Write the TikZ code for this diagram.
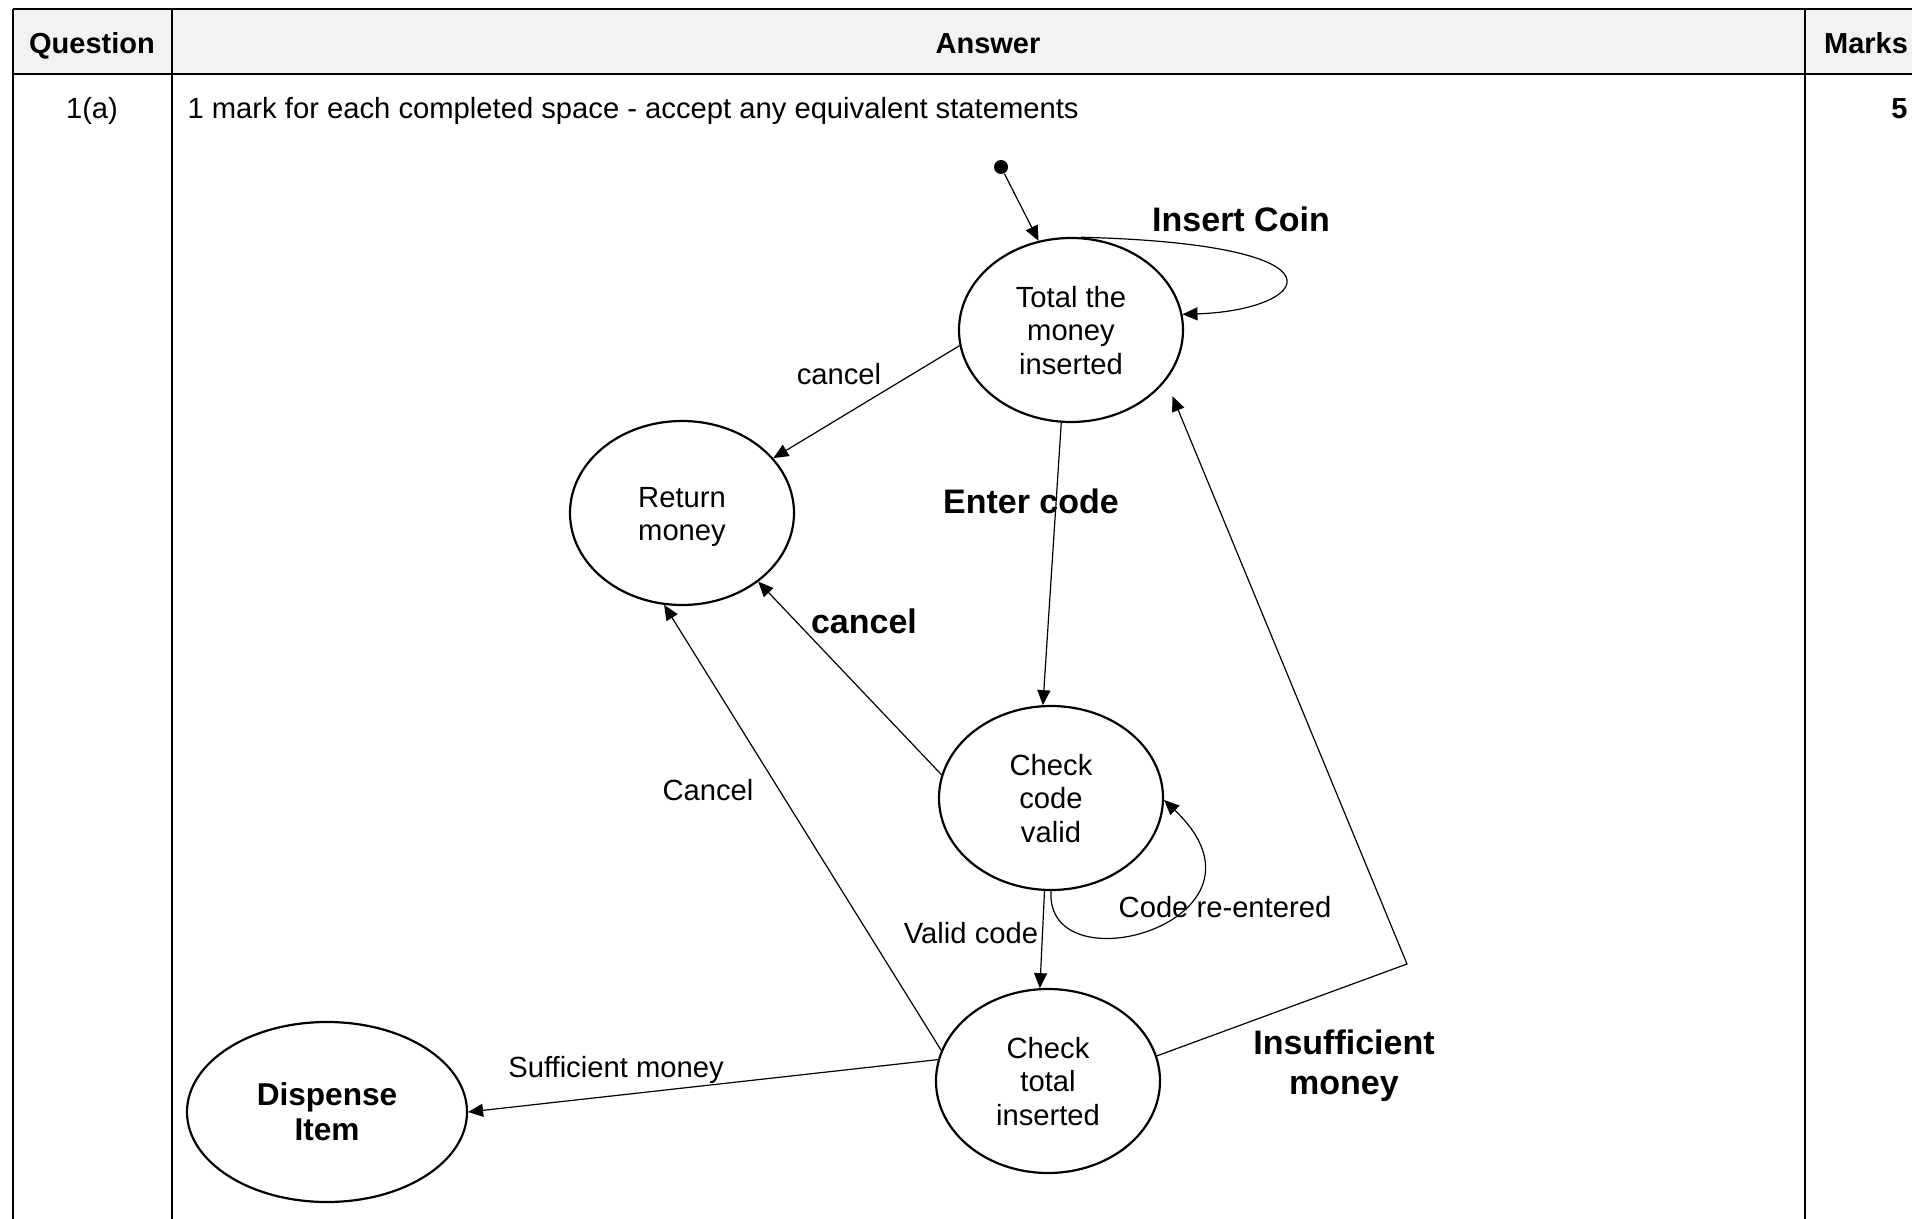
\documentclass[tikz,border=0pt]{standalone}
\usepackage{fontspec}
\setmainfont{Liberation Sans}
\usepackage{tikz}
\usetikzlibrary{arrows.meta,automata,shapes.geometric}
\usetikzlibrary{positioning}

\definecolor{headergray}{HTML}{F2F2F2}
\newcommand{\diagtext}{\fontsize{14.6}{16.8}\selectfont}
\newcommand{\diagbold}{\fontsize{17}{20}\selectfont\bfseries}
\newcommand{\dispbold}{\fontsize{15.8}{17.7}\selectfont\bfseries}
\newcommand{\headbold}{\fontsize{14.5}{16.8}\selectfont\bfseries}

\begin{document}
\begin{tikzpicture}[->,>={Triangle[length=7.5pt,width=6.5pt]},
    x=0.5pt, y=-0.5pt, line width=0.6pt,
    every state/.style={ellipse, draw, line width=1.1pt,
      minimum width=112pt, minimum height=92pt, inner sep=0pt, font=\diagtext},
    lbl/.style={font=\diagtext, anchor=base, inner sep=0pt},
    boldlbl/.style={font=\diagbold, anchor=base, inner sep=0pt},
    headtext/.style={font=\headbold, anchor=base, inner sep=0pt}]
    \useasboundingbox (0,0) rectangle (1912,1219);

    % TABLE
    \fill[headergray] (13,9) rectangle (1912,74);
    \draw[-, line width=0.6pt] (13,9) -- (1912,9);
    \draw[-, line width=1.4pt] (13,74) -- (1912,74);
    \draw[-, line width=1pt] (13,9) -- (13,1219);
    \draw[-, line width=1pt] (172,9) -- (172,1219);
    \draw[-, line width=1pt] (1805,9) -- (1805,1219);

    \node[headtext] (QUESTION_HEAD) at (92,54) {Question};
    \node[headtext] (ANSWER_HEAD) at (988,54) {Answer};
    \node[headtext] (MARKS_HEAD) at (1866,54) {Marks};
    \node[lbl] (QUESTION_NO) at (92,119) {1(a)};
    \node[lbl, anchor=base west] (ANSWER_NOTE) at (187,119)
      {1 mark for each completed space - accept any equivalent statements};
    \node[headtext, anchor=base east] (MARKS_NO) at (1908,119) {5};

    % FIRST LAYER
    \node[circle, fill, inner sep=0pt, minimum size=7pt] (INIT) at (1001,167) {};

    \node[state] (TOTAL_MONEY) at (1071,330)
    {
      \raisebox{-2.1pt}[\height][\depth]{\begin{tabular}{c}
        Total the \\ money \\ inserted
      \end{tabular}}
    };

    % SECOND LAYER
    \node[state,
      node distance=91.5pt,
      below of=TOTAL_MONEY,
      xshift=-194.5pt] (RETURN_MONEY)
    {
      \raisebox{-2.1pt}[\height][\depth]{\begin{tabular}{c}
        Return \\ money
      \end{tabular}}
    };

    % THIRD LAYER
    \node[state,
      node distance=234pt,
      below of=TOTAL_MONEY,
      xshift=-10pt] (CHECK_CODE)
    {
      \raisebox{-2.1pt}[\height][\depth]{\begin{tabular}{c}
        Check \\ code \\ valid
      \end{tabular}}
    };

    % FOURTH LAYER
    \node[state,
      node distance=141.5pt,
      below of=CHECK_CODE,
      xshift=-1.5pt] (CHECK_TOTAL)
    {
      \raisebox{-2.1pt}[\height][\depth]{\begin{tabular}{c}
        Check \\ total \\ inserted
      \end{tabular}}
    };

    \node[state,
      minimum width=140pt, minimum height=90pt, font=\dispbold,
      node distance=360.5pt,
      left of=CHECK_TOTAL,
      yshift=-15.5pt] (DISPENSE_ITEM)
    {
      \raisebox{-2.1pt}[\height][\depth]{\begin{tabular}{c}
        Dispense \\ Item
      \end{tabular}}
    };

    % LABELS
    \node[boldlbl] (INSERT_COIN) at (1241,232) {Insert Coin};
    \node[lbl] (CANCEL_TOP) at (839,385) {cancel};
    \node[boldlbl] (ENTER_CODE) at (1031,514) {Enter code};
    \node[boldlbl] (CANCEL_MID) at (864,633) {cancel};
    \node[lbl] (CANCEL_LOW) at (708,800) {Cancel};
    \node[lbl] (CODE_REENTERED) at (1225,917) {Code re-entered};
    \node[lbl] (VALID_CODE) at (971,943) {Valid code};
    \node[lbl] (SUFFICIENT) at (616,1077) {Sufficient money};
    \node[font=\diagbold, inner sep=0pt] (INSUFFICIENT) at (1344,1066)
    {
      \begin{tabular}{c}
        Insufficient \\ money
      \end{tabular}
    };

    % LINES
    \coordinate (BEND) at (1407,964);

    \path
    (INIT) edge (TOTAL_MONEY.110)
    (TOTAL_MONEY.188) edge (RETURN_MONEY.31)
    (TOTAL_MONEY.264) edge (CHECK_CODE.95)
    (CHECK_CODE.168) edge (RETURN_MONEY.318)
    (CHECK_CODE.266) edge (CHECK_TOTAL.95)
    (CHECK_TOTAL.164) edge (RETURN_MONEY.259)
    (CHECK_TOTAL.169) edge (DISPENSE_ITEM.0)
    ;

    \draw (TOTAL_MONEY.84) .. controls +(280,7) and +(127,-4) .. (TOTAL_MONEY.8);
    \draw (CHECK_CODE.270) .. controls +(-6,99) and +(126,120) .. (CHECK_CODE.359);
    \draw[shorten >=8.5pt] (CHECK_TOTAL.13) -- (BEND) -- (TOTAL_MONEY.332);
  \end{tikzpicture}
\end{document}
